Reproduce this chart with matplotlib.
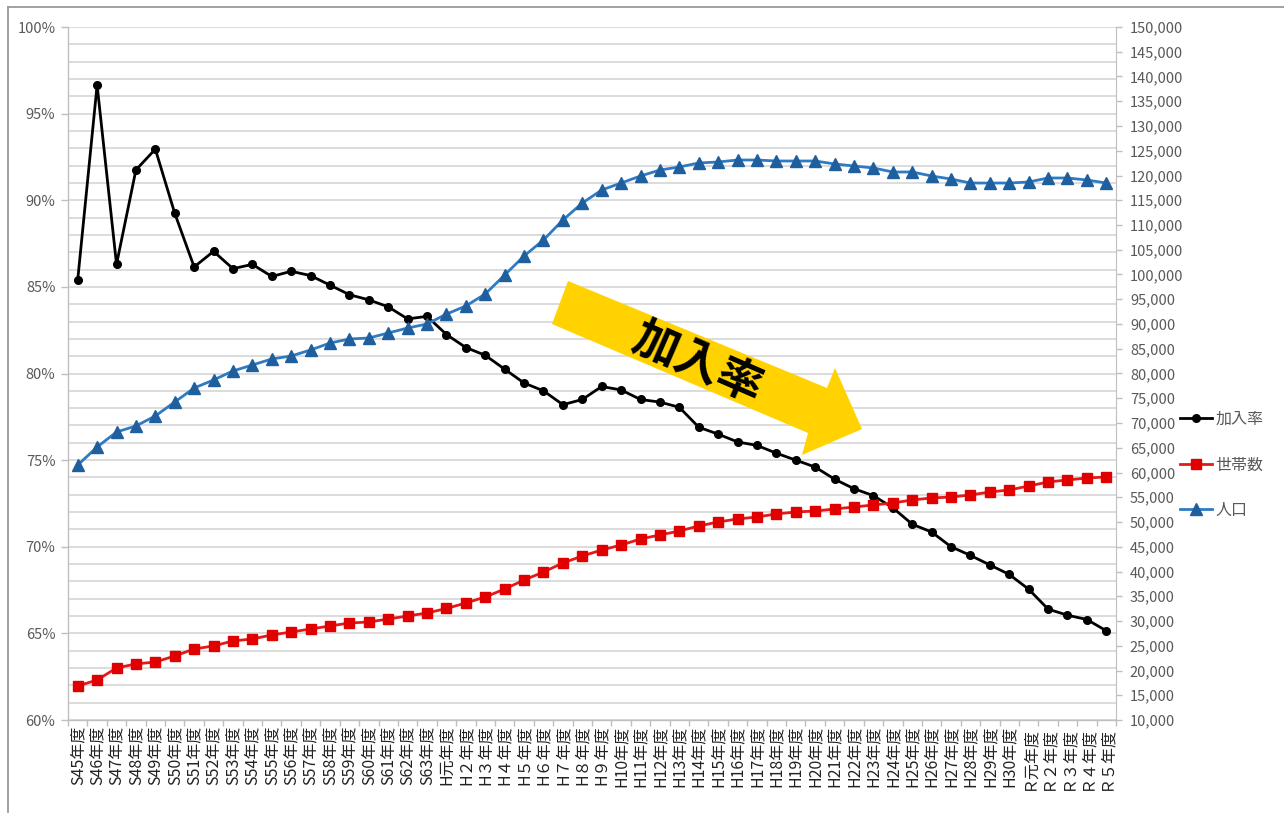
import matplotlib
matplotlib.use("Agg")
import matplotlib.pyplot as plt
from matplotlib.ticker import FuncFormatter, MultipleLocator, FixedLocator
from matplotlib.lines import Line2D
from matplotlib.patches import Polygon
import numpy as np

plt.rcParams['font.family'] = ['Noto Sans CJK JP', 'DejaVu Sans']

categories = [
    "S45年度", "S46年度", "S47年度", "S48年度", "S49年度", "S50年度", "S51年度", "S52年度",
    "S53年度", "S54年度", "S55年度", "S56年度", "S57年度", "S58年度", "S59年度", "S60年度",
    "S61年度", "S62年度", "S63年度",
    "H元年度", "H２年度", "H３年度", "H４年度", "H５年度", "H６年度", "H７年度", "H８年度", "H９年度",
    "H10年度", "H11年度", "H12年度", "H13年度", "H14年度", "H15年度", "H16年度", "H17年度",
    "H18年度", "H19年度", "H20年度", "H21年度", "H22年度", "H23年度", "H24年度", "H25年度",
    "H26年度", "H27年度", "H28年度", "H29年度", "H30年度",
    "Ｒ元年度", "Ｒ２年度", "Ｒ３年度", "Ｒ４年度", "Ｒ５年度",
]

# 加入率 (%)
rate = [
    85.4, 96.65, 86.3, 91.75, 92.95, 89.25, 86.15, 87.05, 86.05, 86.3, 85.6, 85.9, 85.65, 85.1,
    84.55, 84.25, 83.85, 83.15, 83.3,
    82.25, 81.5, 81.05, 80.25, 79.45, 79.0, 78.2, 78.5, 79.25,
    79.05, 78.5, 78.35, 78.05, 76.9, 76.5, 76.05, 75.85, 75.4, 75.0, 74.6, 73.9, 73.35, 72.95,
    72.25, 71.3, 70.85, 70.0, 69.5, 68.95, 68.4,
    67.55, 66.4, 66.05, 65.8, 65.15,
]

# 世帯数
households = [
    16870, 18080, 20510, 21320, 21720, 22930, 24350, 24960, 25970, 26370, 27180, 27780, 28390,
    28990, 29600, 29800, 30400, 31010, 31620,
    32530, 33640, 34850, 36460, 38280, 39900, 41720, 43130, 44340,
    45350, 46570, 47380, 48180, 49190, 50000, 50610, 51010, 51620, 52020, 52220, 52630, 53030,
    53440, 53840, 54450, 54850, 55050, 55460, 56060, 56470,
    57270, 58080, 58490, 58890, 59090,
]

# 人口
population = [
    61500, 65150, 68180, 69400, 71420, 74240, 77070, 78690, 80510, 81720, 82930, 83540, 84750,
    86160, 86970, 87170, 88180, 89190, 90000,
    92000, 93640, 96060, 99900, 103740, 106970, 111010, 114440, 117070,
    118480, 119900, 121110, 121720, 122530, 122730, 123130, 123130, 122930, 122930, 122930,
    122330, 121920, 121520, 120710, 120710, 119900, 119290, 118480, 118480, 118480,
    118690, 119500, 119500, 119090, 118480,
]

W, H = 1284, 813
fig = plt.figure(figsize=(W / 100, H / 100), dpi=100)

def fx(px):
    return px / W

def fy(py):
    return 1 - py / H

# outer chart border (top and left visible)
fig.add_artist(Line2D([fx(8), fx(8)], [fy(7), 0], color='#9a9a9a', lw=1.3, transform=fig.transFigure))
fig.add_artist(Line2D([fx(8), 1], [fy(7), fy(7)], color='#9a9a9a', lw=1.3, transform=fig.transFigure))

L, R, T, B = 68, 1116, 27, 720
ax = fig.add_axes([fx(L), fy(B), (R - L) / W, (B - T) / H])
ax2 = ax.twinx()

x = np.arange(len(categories))
gray_txt = '#595959'
axis_col = '#bfbfbf'

# Left axis
ax.set_ylim(60, 100)
ax.set_xlim(-0.5, len(categories) - 0.5)
ax.yaxis.set_major_locator(MultipleLocator(5))
ax.yaxis.set_minor_locator(MultipleLocator(1))
ax.yaxis.set_major_formatter(FuncFormatter(lambda v, p: f"{v:.0f}%"))
ax.grid(axis='y', which='both', color='#d6d6d6', lw=1.2)
ax.set_axisbelow(True)
ax.tick_params(axis='y', which='major', length=5, width=1, color=axis_col, labelsize=10.5,
               labelcolor=gray_txt, pad=4)
ax.tick_params(axis='y', which='minor', length=0)

ax.set_xticks(x)
ax.set_xticklabels(categories, rotation=90, fontsize=11.5, color='#222222')
ax.tick_params(axis='x', which='major', length=0, pad=4)
ax.xaxis.set_minor_locator(FixedLocator(np.arange(-0.5, len(categories), 1.0)))
ax.tick_params(axis='x', which='minor', length=4, width=1, color=axis_col)

for s in ['top', 'right']:
    ax.spines[s].set_visible(False)
for s in ['left', 'bottom']:
    ax.spines[s].set_color(axis_col)
    ax.spines[s].set_linewidth(1)

# Right axis
ax2.set_ylim(10000, 150000)
ax2.yaxis.set_major_locator(MultipleLocator(5000))
ax2.yaxis.set_major_formatter(FuncFormatter(lambda v, p: f"{v:,.0f}"))
ax2.tick_params(axis='y', length=4, width=1, color=axis_col, labelsize=10.5,
                labelcolor=gray_txt, pad=6)
for s in ['top', 'left', 'bottom']:
    ax2.spines[s].set_visible(False)
ax2.spines['right'].set_color(axis_col)

# Series
l1, = ax.plot(x, rate, color='black', lw=2.0, marker='o', ms=5.5, mfc='black', mec='black',
              label='加入率', zorder=3)
l2, = ax2.plot(x, households, color='#e31a1c', lw=2.0, marker='s', ms=7.5, mfc='#e00000',
               mec='#e00000', label='世帯数', zorder=3)
l3, = ax2.plot(x, population, color='#2e7bc4', lw=2.0, marker='^', ms=8.5, mfc='#1f5f9e',
               mec='#1f5f9e', label='人口', zorder=4)

# Legend
leg = fig.legend(handles=[l1, l2, l3], labels=['加入率', '世帯数', '人口'],
                 loc='upper left', bbox_to_anchor=(fx(1180), fy(411)),
                 frameon=False, fontsize=11.5, labelcolor=gray_txt, handlelength=2.0,
                 handletextpad=0.2, labelspacing=1.78, borderaxespad=0, borderpad=0)

# Yellow arrow annotation
arrow_px = [(568, 281), (827, 388), (835, 368), (862, 429), (802, 455), (808, 433), (552, 324)]
poly = Polygon([(fx(a), fy(b)) for a, b in arrow_px], closed=True, transform=fig.transFigure,
               facecolor='#ffd200', edgecolor='none', zorder=10)
fig.add_artist(poly)
fig.text(fx(697), fy(364), '加入率', rotation=-23.5, rotation_mode='anchor', ha='center',
         va='center', fontsize=33, fontweight='bold', color='black', zorder=11)

fig.savefig('out.png', dpi=100, facecolor='white')
